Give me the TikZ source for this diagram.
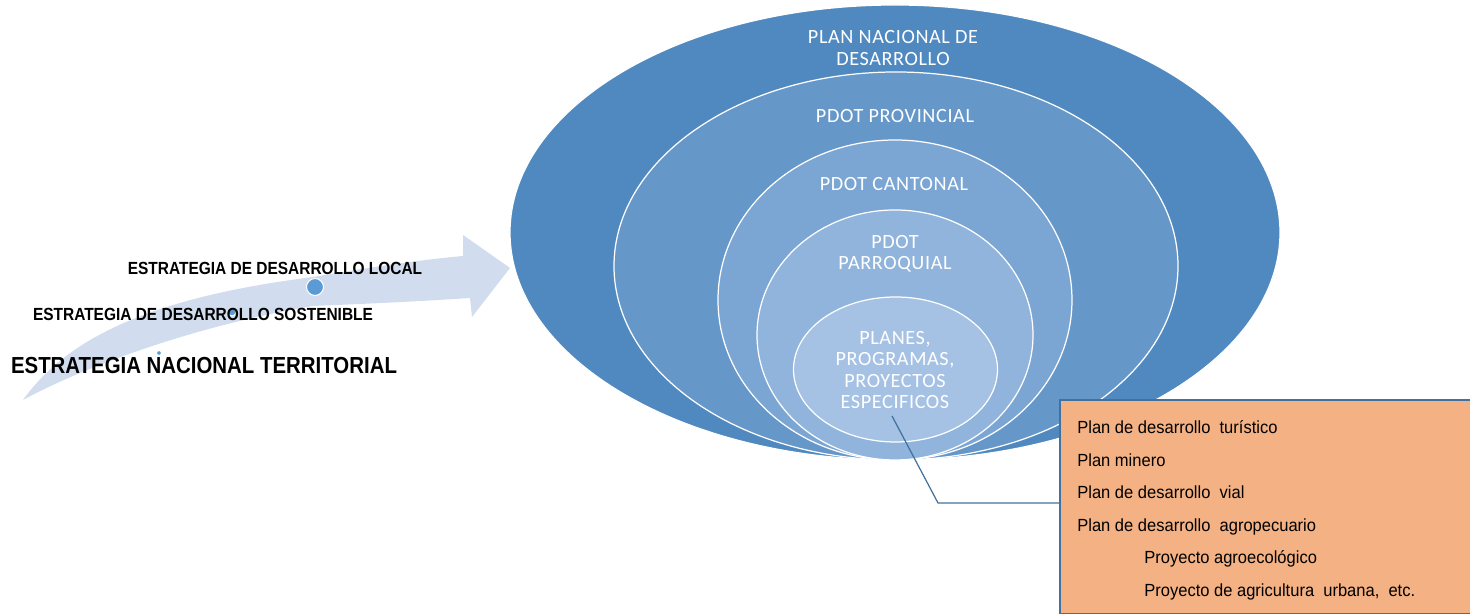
\documentclass[tikz,border=0pt]{standalone}
\usepackage{fontspec}
\setmainfont{Liberation Sans}
\newfontfamily\calibri[LetterSpace=3]{Carlito}
\newfontfamily\arialn[FakeStretch=0.88]{Liberation Sans}
\newfontfamily\arialc[FakeStretch=0.94]{Liberation Sans}
\usepackage{tikz}
\usepackage{xcolor}
\definecolor{azul1}{RGB}{79,137,192}
\definecolor{azul2}{RGB}{102,151,201}
\definecolor{azul3}{RGB}{123,166,211}
\definecolor{azul4}{RGB}{144,180,219}
\definecolor{azul5}{RGB}{165,193,228}
\definecolor{azulflecha}{RGB}{209,220,238}
\definecolor{azulpunto}{RGB}{91,155,213}
\definecolor{naranja}{RGB}{244,177,131}
\definecolor{borde}{RGB}{65,113,156}

\begin{document}
\begin{tikzpicture}[
                    aro/.style={draw=white,line width=0.7pt},
                    plan/.style={text=white,align=center,font=\calibri\fontsize{11.5}{12}\selectfont},
                    punto/.style={fill=azulpunto,draw=white,line width=0.6pt},
                    estrategia/.style={text=black,font=\arialn\bfseries\fontsize{10}{12}\selectfont},
                    linea/.style={anchor=base west,inner sep=0pt,font=\arialc\fontsize{10}{12}\selectfont}]
                    \useasboundingbox (0,0) rectangle (29.4,12.28);

                    \fill[azulflecha] (0.46,4.28) .. controls (1.4,5.6) and (3.2,6.35) .. (6.26,6.74)
                        .. controls (7.5,6.95) and (8.4,7.08) .. (9.26,7.16) -- (9.26,7.58) -- (10.2,6.92)
                        -- (9.44,5.94) -- (9.4,6.32) .. controls (8.2,6.24) and (7.2,6.2) .. (6.26,6.16)
                        .. controls (3.8,5.75) and (1.6,4.9) .. cycle;

                    \draw[aro,fill=azul1] (17.9,7.63) ellipse (7.7 and 4.55);
                    \draw[aro,fill=azul2] (17.92,6.96) ellipse (5.64 and 3.88);
                    \draw[aro,fill=azul3] (17.9,6.28) ellipse (3.54 and 3.2);
                    \draw[aro,fill=azul4] (17.9,5.58) ellipse (2.76 and 2.5);
                    \draw[aro,fill=azul5] (17.91,4.89) ellipse (2.04 and 1.45);

                    \node[plan] (nacional) at (17.86,11.32){PLAN NACIONAL DE\\DESARROLLO};
                    \node[plan] (provincial) at (17.9,9.96){PDOT PROVINCIAL};
                    \node[plan] (cantonal) at (17.88,8.6){PDOT CANTONAL};
                    \node[plan] (parroquial) at (17.9,7.21){PDOT\\PARROQUIAL};
                    \node[plan] (planes) at (17.9,4.88){PLANES,\\PROGRAMAS,\\PROYECTOS\\ESPECIFICOS};

                    \draw[punto] (6.3,6.54) circle (0.17);
                    \draw[punto] (4.64,6.04) circle (0.08);
                    \draw[punto] (3.18,5.22) circle (0.05);

                    \node[estrategia] (local) at (5.5,6.92){ESTRATEGIA DE DESARROLLO LOCAL};
                    \node[estrategia] (sostenible) at (4.06,6.0){ESTRATEGIA DE DESARROLLO SOSTENIBLE};
                    \node[estrategia,font=\arialn\bfseries\fontsize{13.2}{15}\selectfont] (territorial) at (4.08,4.96){ESTRATEGIA NACIONAL TERRITORIAL};

                    \node[fill=naranja,anchor=north west,minimum width=8.8cm,minimum height=4.26cm] (lista) at (21.2,4.28){};
                    \draw[borde,line width=0.8pt] (lista.north east) -- (lista.north west) -- (lista.south west) -- (lista.south east);
                    \node[linea] (turistico) at (21.54,3.6){Plan de desarrollo\ \ turístico};
                    \node[linea] (minero) at (21.54,2.95){Plan minero};
                    \node[linea] (vial) at (21.54,2.3){Plan de desarrollo\ \ vial};
                    \node[linea] (agro) at (21.54,1.65){Plan de desarrollo\ \ agropecuario};
                    \node[linea] (agroeco) at (22.88,1.0){Proyecto agroecológico};
                    \node[linea] (urbana) at (22.88,0.35){Proyecto de agricultura\ \ urbana,\ \ etc.};

                    \coordinate (punta) at (17.84,3.96);
                    \coordinate (codo) at (18.76,2.22);
                    \draw[borde,line width=0.7pt] (punta) -- (codo) -- (codo -| lista.west);
                \end{tikzpicture}
\end{document}
